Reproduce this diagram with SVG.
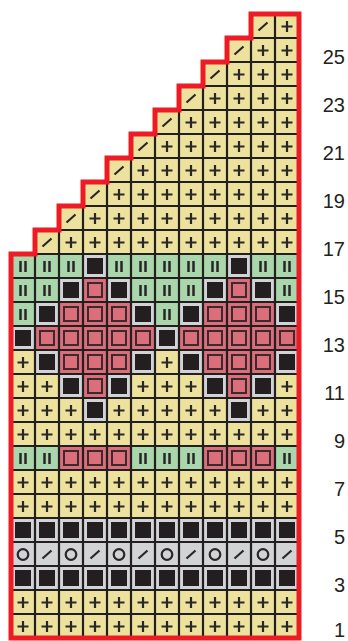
<svg xmlns="http://www.w3.org/2000/svg" xmlns:xlink="http://www.w3.org/1999/xlink" width="348" height="641" viewBox="0 0 348 641">
<style>
.yel{fill:#ede29d}.grn{fill:#a9d6ab}.pnk{fill:#da6e7b}.gry{fill:#d2d3d5}
.sym{stroke:#2a2627;stroke-width:2.2;fill:none;stroke-linecap:butt}
.grid{stroke:#231f20;stroke-width:2.2;fill:none}
.edge{stroke:#ed1c24;stroke-width:5;fill:none;stroke-linejoin:miter}
.lbl{font-family:"Liberation Sans","Open Sans",sans-serif;font-size:20px;fill:#231f20;text-anchor:end}
</style>
<defs>
<g id="Y"><rect class="yel" width="24" height="24"/><path class="sym" d="M6.5 12.5H17.5M12 7V18"/></g>
<g id="S"><rect class="yel" width="24" height="24"/><path class="sym" d="M7.5 16.5L16.5 8.5"/></g>
<g id="G"><rect class="grn" width="24" height="24"/><path class="sym" d="M9.5 7V18M14.5 7V18" style="stroke-width:2.5"/></g>
<g id="B"><rect class="gry" width="24" height="24"/><rect x="4" y="4" width="16" height="16" fill="#231f20"/></g>
<g id="P"><rect class="pnk" width="24" height="24"/><rect x="5" y="5" width="14" height="14" class="pnk" stroke="#3b2a2d" stroke-width="2"/></g>
<g id="O"><rect class="gry" width="24" height="24"/><circle cx="12" cy="12.5" r="5.3" class="sym"/></g>
<g id="Z"><rect class="gry" width="24" height="24"/><path class="sym" d="M7.5 16.5L16.5 8.5"/></g>
</defs>
<g id="cells">
<g id="row26" transform="translate(0,14)"><use href="#S" x="251"/><use href="#Y" x="275"/></g>
<g id="row25" transform="translate(0,38)"><use href="#S" x="227"/><use href="#Y" x="251"/><use href="#Y" x="275"/></g>
<g id="row24" transform="translate(0,62)"><use href="#S" x="203"/><use href="#Y" x="227"/><use href="#Y" x="251"/><use href="#Y" x="275"/></g>
<g id="row23" transform="translate(0,86)"><use href="#S" x="179"/><use href="#Y" x="203"/><use href="#Y" x="227"/><use href="#Y" x="251"/><use href="#Y" x="275"/></g>
<g id="row22" transform="translate(0,110)"><use href="#S" x="155"/><use href="#Y" x="179"/><use href="#Y" x="203"/><use href="#Y" x="227"/><use href="#Y" x="251"/><use href="#Y" x="275"/></g>
<g id="row21" transform="translate(0,134)"><use href="#S" x="131"/><use href="#Y" x="155"/><use href="#Y" x="179"/><use href="#Y" x="203"/><use href="#Y" x="227"/><use href="#Y" x="251"/><use href="#Y" x="275"/></g>
<g id="row20" transform="translate(0,158)"><use href="#S" x="107"/><use href="#Y" x="131"/><use href="#Y" x="155"/><use href="#Y" x="179"/><use href="#Y" x="203"/><use href="#Y" x="227"/><use href="#Y" x="251"/><use href="#Y" x="275"/></g>
<g id="row19" transform="translate(0,182)"><use href="#S" x="83"/><use href="#Y" x="107"/><use href="#Y" x="131"/><use href="#Y" x="155"/><use href="#Y" x="179"/><use href="#Y" x="203"/><use href="#Y" x="227"/><use href="#Y" x="251"/><use href="#Y" x="275"/></g>
<g id="row18" transform="translate(0,206)"><use href="#S" x="59"/><use href="#Y" x="83"/><use href="#Y" x="107"/><use href="#Y" x="131"/><use href="#Y" x="155"/><use href="#Y" x="179"/><use href="#Y" x="203"/><use href="#Y" x="227"/><use href="#Y" x="251"/><use href="#Y" x="275"/></g>
<g id="row17" transform="translate(0,230)"><use href="#S" x="35"/><use href="#Y" x="59"/><use href="#Y" x="83"/><use href="#Y" x="107"/><use href="#Y" x="131"/><use href="#Y" x="155"/><use href="#Y" x="179"/><use href="#Y" x="203"/><use href="#Y" x="227"/><use href="#Y" x="251"/><use href="#Y" x="275"/></g>
<g id="row16" transform="translate(0,254)"><use href="#G" x="11"/><use href="#G" x="35"/><use href="#G" x="59"/><use href="#B" x="83"/><use href="#G" x="107"/><use href="#G" x="131"/><use href="#G" x="155"/><use href="#G" x="179"/><use href="#G" x="203"/><use href="#B" x="227"/><use href="#G" x="251"/><use href="#G" x="275"/></g>
<g id="row15" transform="translate(0,278)"><use href="#G" x="11"/><use href="#G" x="35"/><use href="#B" x="59"/><use href="#P" x="83"/><use href="#B" x="107"/><use href="#G" x="131"/><use href="#G" x="155"/><use href="#G" x="179"/><use href="#B" x="203"/><use href="#P" x="227"/><use href="#B" x="251"/><use href="#G" x="275"/></g>
<g id="row14" transform="translate(0,302)"><use href="#G" x="11"/><use href="#B" x="35"/><use href="#P" x="59"/><use href="#P" x="83"/><use href="#P" x="107"/><use href="#B" x="131"/><use href="#G" x="155"/><use href="#B" x="179"/><use href="#P" x="203"/><use href="#P" x="227"/><use href="#P" x="251"/><use href="#B" x="275"/></g>
<g id="row13" transform="translate(0,326)"><use href="#B" x="11"/><use href="#P" x="35"/><use href="#P" x="59"/><use href="#P" x="83"/><use href="#P" x="107"/><use href="#P" x="131"/><use href="#B" x="155"/><use href="#P" x="179"/><use href="#P" x="203"/><use href="#P" x="227"/><use href="#P" x="251"/><use href="#P" x="275"/></g>
<g id="row12" transform="translate(0,350)"><use href="#Y" x="11"/><use href="#B" x="35"/><use href="#P" x="59"/><use href="#P" x="83"/><use href="#P" x="107"/><use href="#B" x="131"/><use href="#Y" x="155"/><use href="#B" x="179"/><use href="#P" x="203"/><use href="#P" x="227"/><use href="#P" x="251"/><use href="#B" x="275"/></g>
<g id="row11" transform="translate(0,374)"><use href="#Y" x="11"/><use href="#Y" x="35"/><use href="#B" x="59"/><use href="#P" x="83"/><use href="#B" x="107"/><use href="#Y" x="131"/><use href="#Y" x="155"/><use href="#Y" x="179"/><use href="#B" x="203"/><use href="#P" x="227"/><use href="#B" x="251"/><use href="#Y" x="275"/></g>
<g id="row10" transform="translate(0,398)"><use href="#Y" x="11"/><use href="#Y" x="35"/><use href="#Y" x="59"/><use href="#B" x="83"/><use href="#Y" x="107"/><use href="#Y" x="131"/><use href="#Y" x="155"/><use href="#Y" x="179"/><use href="#Y" x="203"/><use href="#B" x="227"/><use href="#Y" x="251"/><use href="#Y" x="275"/></g>
<g id="row9" transform="translate(0,422)"><use href="#Y" x="11"/><use href="#Y" x="35"/><use href="#Y" x="59"/><use href="#Y" x="83"/><use href="#Y" x="107"/><use href="#Y" x="131"/><use href="#Y" x="155"/><use href="#Y" x="179"/><use href="#Y" x="203"/><use href="#Y" x="227"/><use href="#Y" x="251"/><use href="#Y" x="275"/></g>
<g id="row8" transform="translate(0,446)"><use href="#G" x="11"/><use href="#G" x="35"/><use href="#P" x="59"/><use href="#P" x="83"/><use href="#P" x="107"/><use href="#G" x="131"/><use href="#G" x="155"/><use href="#G" x="179"/><use href="#P" x="203"/><use href="#P" x="227"/><use href="#P" x="251"/><use href="#G" x="275"/></g>
<g id="row7" transform="translate(0,470)"><use href="#Y" x="11"/><use href="#Y" x="35"/><use href="#Y" x="59"/><use href="#Y" x="83"/><use href="#Y" x="107"/><use href="#Y" x="131"/><use href="#Y" x="155"/><use href="#Y" x="179"/><use href="#Y" x="203"/><use href="#Y" x="227"/><use href="#Y" x="251"/><use href="#Y" x="275"/></g>
<g id="row6" transform="translate(0,494)"><use href="#Y" x="11"/><use href="#Y" x="35"/><use href="#Y" x="59"/><use href="#Y" x="83"/><use href="#Y" x="107"/><use href="#Y" x="131"/><use href="#Y" x="155"/><use href="#Y" x="179"/><use href="#Y" x="203"/><use href="#Y" x="227"/><use href="#Y" x="251"/><use href="#Y" x="275"/></g>
<g id="row5" transform="translate(0,518)"><use href="#B" x="11"/><use href="#B" x="35"/><use href="#B" x="59"/><use href="#B" x="83"/><use href="#B" x="107"/><use href="#B" x="131"/><use href="#B" x="155"/><use href="#B" x="179"/><use href="#B" x="203"/><use href="#B" x="227"/><use href="#B" x="251"/><use href="#B" x="275"/></g>
<g id="row4" transform="translate(0,542)"><use href="#O" x="11"/><use href="#Z" x="35"/><use href="#O" x="59"/><use href="#Z" x="83"/><use href="#O" x="107"/><use href="#Z" x="131"/><use href="#O" x="155"/><use href="#Z" x="179"/><use href="#O" x="203"/><use href="#Z" x="227"/><use href="#O" x="251"/><use href="#Z" x="275"/></g>
<g id="row3" transform="translate(0,566)"><use href="#B" x="11"/><use href="#B" x="35"/><use href="#B" x="59"/><use href="#B" x="83"/><use href="#B" x="107"/><use href="#B" x="131"/><use href="#B" x="155"/><use href="#B" x="179"/><use href="#B" x="203"/><use href="#B" x="227"/><use href="#B" x="251"/><use href="#B" x="275"/></g>
<g id="row2" transform="translate(0,590)"><use href="#Y" x="11"/><use href="#Y" x="35"/><use href="#Y" x="59"/><use href="#Y" x="83"/><use href="#Y" x="107"/><use href="#Y" x="131"/><use href="#Y" x="155"/><use href="#Y" x="179"/><use href="#Y" x="203"/><use href="#Y" x="227"/><use href="#Y" x="251"/><use href="#Y" x="275"/></g>
<g id="row1" transform="translate(0,614)"><use href="#Y" x="11"/><use href="#Y" x="35"/><use href="#Y" x="59"/><use href="#Y" x="83"/><use href="#Y" x="107"/><use href="#Y" x="131"/><use href="#Y" x="155"/><use href="#Y" x="179"/><use href="#Y" x="203"/><use href="#Y" x="227"/><use href="#Y" x="251"/><use href="#Y" x="275"/></g>
</g>
<g id="grid">
<path class="grid" d="M251 14H299M227 38H299M203 62H299M179 86H299M155 110H299M131 134H299M107 158H299M83 182H299M59 206H299M35 230H299M11 254H299M11 278H299M11 302H299M11 326H299M11 350H299M11 374H299M11 398H299M11 422H299M11 446H299M11 470H299M11 494H299M11 518H299M11 542H299M11 566H299M11 590H299M11 614H299M11 638H299"/>
<path class="grid" d="M11 254V638M35 230V638M59 206V638M83 182V638M107 158V638M131 134V638M155 110V638M179 86V638M203 62V638M227 38V638M251 14V638M275 14V638M299 14V638"/>
</g>
<g id="outline">
<path class="edge" d="M11 638V254H35V230H59V206H83V182H107V158H131V134H155V110H179V86H203V62H227V38H251V14H299V638Z"/>
</g>
<g id="labels">
<text class="lbl" x="345" y="63.5">25</text>
<text class="lbl" x="345" y="111.5">23</text>
<text class="lbl" x="345" y="159.5">21</text>
<text class="lbl" x="345" y="207.5">19</text>
<text class="lbl" x="345" y="255.5">17</text>
<text class="lbl" x="345" y="303.5">15</text>
<text class="lbl" x="345" y="351.5">13</text>
<text class="lbl" x="345" y="399.5">11</text>
<text class="lbl" x="345" y="447.5">9</text>
<text class="lbl" x="345" y="495.5">7</text>
<text class="lbl" x="345" y="543.5">5</text>
<text class="lbl" x="345" y="591.5">3</text>
<text class="lbl" x="345" y="636.5">1</text>
</g>
</svg>
